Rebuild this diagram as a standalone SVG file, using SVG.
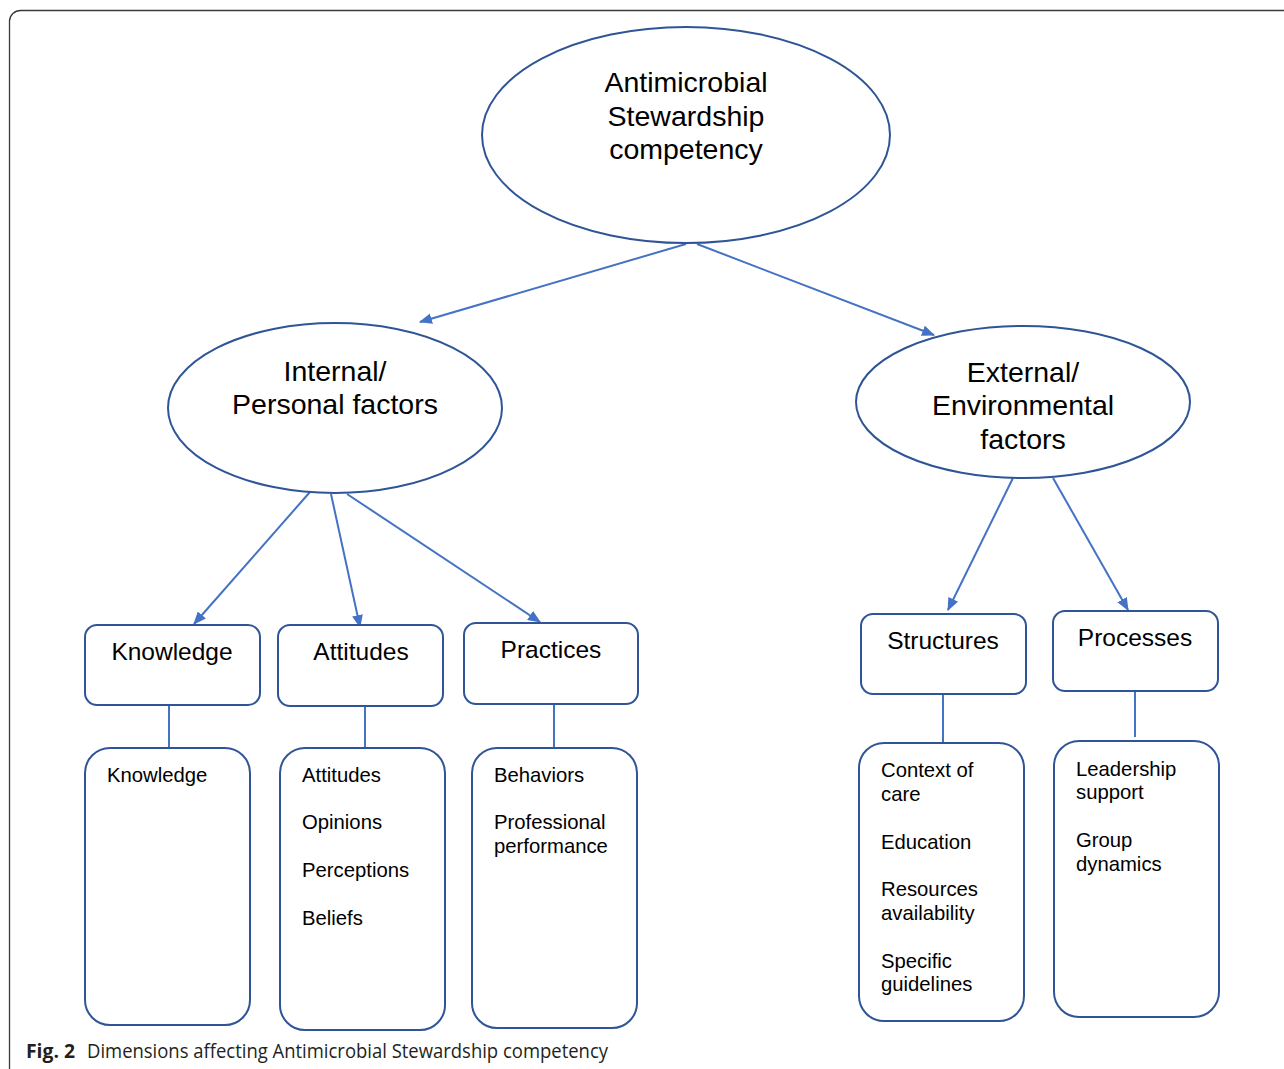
<svg xmlns="http://www.w3.org/2000/svg" width="1284" height="1069" viewBox="0 0 1284 1069">
<style>
.frame{fill:none;stroke:#3a3a3a;stroke-width:1.3}
.node{fill:#fff;stroke:#2F5597;stroke-width:2}
.conn{stroke:#4472C4;stroke-width:2;fill:none}
.t{font-family:"Liberation Sans",Arial,sans-serif;fill:#000}
.big{font-size:28.5px;text-anchor:middle}
.mid{font-size:24.5px;text-anchor:middle}
.sm{font-size:20.3px}
.cap{font-family:"Open Sans","Liberation Sans",sans-serif;font-size:20px;fill:#231f20}
</style>
<defs>
<marker id="ah" viewBox="0 0 12 10" refX="11" refY="5" markerWidth="13" markerHeight="11" markerUnits="userSpaceOnUse" orient="auto">
<path d="M0,0 L12,5 L0,10 z" fill="#4472C4"/>
</marker>
</defs>
<rect width="1284" height="1069" fill="#fff"/>
<path class="frame" d="M9.5,1069 V21 A11,11 0 0 1 20.5,10.5 H1284"/>

<g id="connectors">
<line class="conn" x1="686" y1="244" x2="420" y2="322" marker-end="url(#ah)"/>
<line class="conn" x1="697" y1="244" x2="934" y2="335" marker-end="url(#ah)"/>
<line class="conn" x1="310" y1="492" x2="194" y2="624" marker-end="url(#ah)"/>
<line class="conn" x1="331" y1="494" x2="360" y2="627" marker-end="url(#ah)"/>
<line class="conn" x1="347" y1="494" x2="540" y2="622" marker-end="url(#ah)"/>
<line class="conn" x1="1013" y1="478" x2="948" y2="610" marker-end="url(#ah)"/>
<line class="conn" x1="1053" y1="478" x2="1128" y2="610" marker-end="url(#ah)"/>
<line class="conn" x1="169" y1="706" x2="169" y2="750"/>
<line class="conn" x1="365" y1="707" x2="365" y2="750"/>
<line class="conn" x1="554" y1="705" x2="554" y2="748"/>
<line class="conn" x1="943" y1="695" x2="943" y2="743"/>
<line class="conn" x1="1135" y1="692" x2="1135" y2="737"/>
</g>

<g id="n-amr">
<ellipse class="node" cx="686" cy="135" rx="204" ry="108"/>
<text class="t big"><tspan x="686" y="92">Antimicrobial</tspan><tspan x="686" y="126">Stewardship</tspan><tspan x="686" y="159">competency</tspan></text>
</g>
<g id="n-internal">
<ellipse class="node" cx="335" cy="408" rx="167" ry="85"/>
<text class="t big"><tspan x="335" y="381">Internal/</tspan><tspan x="335" y="414">Personal factors</tspan></text>
</g>
<g id="n-external">
<ellipse class="node" cx="1023" cy="402" rx="167" ry="76"/>
<text class="t big"><tspan x="1023" y="382">External/</tspan><tspan x="1023" y="415">Environmental</tspan><tspan x="1023" y="449">factors</tspan></text>
</g>

<g id="n-knowledge">
<rect class="node" x="85" y="625" width="175" height="80" rx="12"/>
<text class="t mid" x="172" y="660">Knowledge</text>
</g>
<g id="n-attitudes">
<rect class="node" x="278" y="625" width="165" height="81" rx="12"/>
<text class="t mid" x="361" y="660">Attitudes</text>
</g>
<g id="n-practices">
<rect class="node" x="464" y="623" width="174" height="81" rx="12"/>
<text class="t mid" x="551" y="658">Practices</text>
</g>
<g id="n-structures">
<rect class="node" x="861" y="614" width="165" height="80" rx="12"/>
<text class="t mid" x="943" y="649">Structures</text>
</g>
<g id="n-processes">
<rect class="node" x="1053" y="611" width="165" height="80" rx="12"/>
<text class="t mid" x="1135" y="646">Processes</text>
</g>

<g id="n-knowledge-list">
<rect class="node" x="85" y="748" width="165" height="277" rx="25"/>
<text class="t sm" x="107" y="782">Knowledge</text>
</g>
<g id="n-attitudes-list">
<rect class="node" x="280" y="748" width="165" height="282" rx="25"/>
<text class="t sm"><tspan x="302" y="782">Attitudes</tspan><tspan x="302" y="829">Opinions</tspan><tspan x="302" y="877">Perceptions</tspan><tspan x="302" y="925">Beliefs</tspan></text>
</g>
<g id="n-practices-list">
<rect class="node" x="472" y="748" width="165" height="280" rx="25"/>
<text class="t sm"><tspan x="494" y="782">Behaviors</tspan><tspan x="494" y="829">Professional</tspan><tspan x="494" y="853">performance</tspan></text>
</g>
<g id="n-structures-list">
<rect class="node" x="859" y="743" width="165" height="278" rx="25"/>
<text class="t sm"><tspan x="881" y="777">Context of</tspan><tspan x="881" y="801">care</tspan><tspan x="881" y="849">Education</tspan><tspan x="881" y="896">Resources</tspan><tspan x="881" y="920">availability</tspan><tspan x="881" y="968">Specific</tspan><tspan x="881" y="991">guidelines</tspan></text>
</g>
<g id="n-processes-list">
<rect class="node" x="1054" y="741" width="165" height="276" rx="25"/>
<text class="t sm"><tspan x="1076" y="776">Leadership</tspan><tspan x="1076" y="799">support</tspan><tspan x="1076" y="847">Group</tspan><tspan x="1076" y="871">dynamics</tspan></text>
</g>

<text class="cap" y="1058"><tspan x="26" font-weight="bold" textLength="49" lengthAdjust="spacingAndGlyphs">Fig. 2</tspan><tspan x="87" textLength="521" lengthAdjust="spacingAndGlyphs">Dimensions affecting Antimicrobial Stewardship competency</tspan></text>
</svg>
